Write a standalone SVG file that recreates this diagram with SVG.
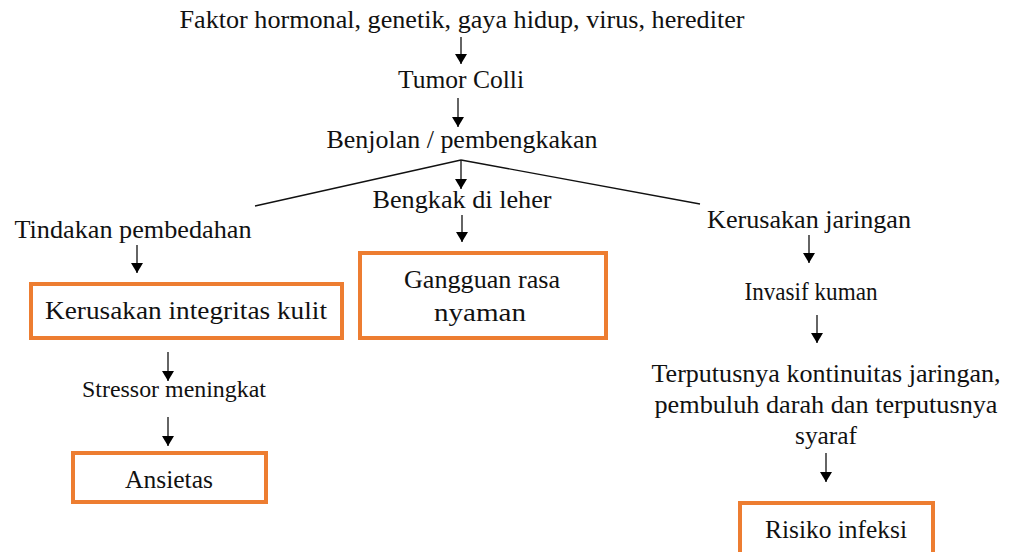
<svg xmlns="http://www.w3.org/2000/svg" width="1010" height="552" viewBox="0 0 1010 552">
<style>
text{font-family:"Liberation Serif","Times New Roman",serif;font-size:26px;fill:#111;text-anchor:middle}
.box{fill:#fff;stroke:#ed7d31;stroke-width:4}
.ln{stroke:#111;stroke-width:1.3;fill:none}
</style>
<defs>
<marker id="ah" viewBox="0 0 10 12" refX="10" refY="6" markerWidth="10" markerHeight="12" markerUnits="userSpaceOnUse" orient="auto">
<path d="M0,0 L10,6 L0,12 Z" fill="#000"/>
</marker>
</defs>
<rect width="1010" height="552" fill="#fff"/>
<g id="connectors">
<line class="ln" x1="461" y1="37" x2="461" y2="64" marker-end="url(#ah)"/>
<line class="ln" x1="458" y1="98" x2="458" y2="127" marker-end="url(#ah)"/>
<line class="ln" x1="461" y1="160" x2="461" y2="189" marker-end="url(#ah)"/>
<line class="ln" x1="461" y1="160" x2="255" y2="206"/>
<line class="ln" x1="461" y1="160" x2="700" y2="204"/>
<line class="ln" x1="462" y1="215" x2="462" y2="242" marker-end="url(#ah)"/>
<line class="ln" x1="137" y1="245" x2="137" y2="273" marker-end="url(#ah)"/>
<line class="ln" x1="168" y1="352" x2="168" y2="381" marker-end="url(#ah)"/>
<line class="ln" x1="168" y1="417" x2="168" y2="446" marker-end="url(#ah)"/>
<line class="ln" x1="809" y1="235" x2="809" y2="263" marker-end="url(#ah)"/>
<line class="ln" x1="817" y1="315" x2="817" y2="343" marker-end="url(#ah)"/>
<line class="ln" x1="826" y1="453" x2="826" y2="482" marker-end="url(#ah)"/>
</g>
<g id="n-faktor"><text x="462" y="28" textLength="565" lengthAdjust="spacingAndGlyphs">Faktor hormonal, genetik, gaya hidup, virus, herediter</text></g>
<g id="n-tumor"><text x="461" y="88" textLength="126" lengthAdjust="spacingAndGlyphs">Tumor Colli</text></g>
<g id="n-benjolan"><text x="462" y="148" textLength="271" lengthAdjust="spacingAndGlyphs">Benjolan / pembengkakan</text></g>
<g id="n-bengkak"><text x="462" y="208" textLength="179" lengthAdjust="spacingAndGlyphs">Bengkak di leher</text></g>
<g id="n-gangguan"><rect class="box" x="360" y="253" width="246" height="85"/><text x="482" y="288" textLength="156" lengthAdjust="spacingAndGlyphs">Gangguan rasa</text><text x="480" y="321" textLength="92" lengthAdjust="spacingAndGlyphs">nyaman</text></g>
<g id="n-tindakan"><text x="133" y="238" textLength="237" lengthAdjust="spacingAndGlyphs">Tindakan pembedahan</text></g>
<g id="n-kulit"><rect class="box" x="31" y="284" width="311" height="54"/><text x="186" y="319" textLength="282" lengthAdjust="spacingAndGlyphs">Kerusakan integritas kulit</text></g>
<g id="n-stressor"><text x="174" y="397" textLength="184" lengthAdjust="spacingAndGlyphs" style="font-size:23px">Stressor meningkat</text></g>
<g id="n-ansietas"><rect class="box" x="73" y="453" width="193" height="49"/><text x="169" y="488" textLength="88" lengthAdjust="spacingAndGlyphs">Ansietas</text></g>
<g id="n-kerusakan-jaringan"><text x="809" y="228" textLength="204" lengthAdjust="spacingAndGlyphs">Kerusakan jaringan</text></g>
<g id="n-invasif"><text x="811" y="300" textLength="133" lengthAdjust="spacingAndGlyphs">Invasif kuman</text></g>
<g id="n-terputus"><text x="826" y="382" textLength="349" lengthAdjust="spacingAndGlyphs">Terputusnya kontinuitas jaringan,</text><text x="826" y="413" textLength="343" lengthAdjust="spacingAndGlyphs">pembuluh darah dan terputusnya</text><text x="826" y="444" textLength="62" lengthAdjust="spacingAndGlyphs">syaraf</text></g>
<g id="n-risiko"><rect class="box" x="740" y="503" width="193" height="56"/><text x="836" y="538" textLength="142" lengthAdjust="spacingAndGlyphs">Risiko infeksi</text></g>
</svg>
